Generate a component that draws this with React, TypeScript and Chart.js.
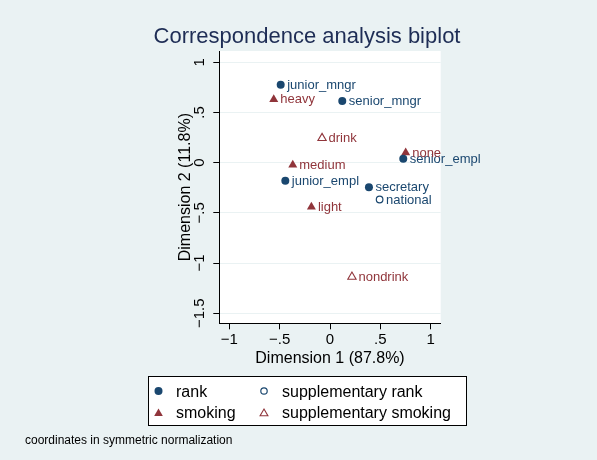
import React, { useEffect, useRef } from 'react';
import { Chart, registerables } from 'chart.js';

Chart.register(...registerables);

// ---- data ----
const rankLabels = ['junior_mngr', 'senior_mngr', 'senior_empl', 'junior_empl', 'secretary'];
const rankX = [-0.49, 0.122, 0.728, -0.444, 0.387];
const rankY = [0.775, 0.615, 0.038, -0.181, -0.244];

const suppRankLabels = ['national'];
const suppRankX = [0.493];
const suppRankY = [-0.367];

const smokingLabels = ['heavy', 'none', 'medium', 'light'];
const smokingX = [-0.559, 0.752, -0.37, -0.185];
const smokingY = [0.63, 0.1, -0.022, -0.44];

const suppSmokingLabels = ['drink', 'nondrink'];
const suppSmokingX = [-0.079, 0.218];
const suppSmokingY = [0.244, -1.137];

const xTicks = [-1, -0.5, 0, 0.5, 1];
const yTicks = [-1.5, -1, -0.5, 0, 0.5, 1];

const titleText = 'Correspondence analysis biplot';
const xTitle = 'Dimension 1 (87.8%)';
const yTitle = 'Dimension 2 (11.8%)';
const legendItems = ['rank', 'supplementary rank', 'smoking', 'supplementary smoking'];
const noteText = 'coordinates in symmetric normalization';

// ---- style ----
const NAVY = '#1a476f';
const MAROON = '#90353b';
const BG = '#eaf2f3';
const GRID = '#eaf2f3';
const TITLE_COLOR = '#1e2d55';
const FONT = '"Liberation Sans", Arial, Helvetica, sans-serif';

function fmt(v: number): string {
  if (v === 0) return '0';
  const s = Math.abs(v).toString().replace(/^0\./, '.');
  return (v < 0 ? '\u2212' : '') + s;
}

function pts(xs: number[], ys: number[]) {
  return xs.map((x, i) => ({ x, y: ys[i] }));
}

function tri(ctx: CanvasRenderingContext2D, x: number, y: number, r: number, fill: boolean, color: string) {
  ctx.beginPath();
  let a = 0;
  for (let i = 0; i < 3; i++) {
    const px = x + Math.sin(a) * r;
    const py = y - Math.cos(a) * r;
    if (i === 0) ctx.moveTo(px, py); else ctx.lineTo(px, py);
    a += (2 * Math.PI) / 3;
  }
  ctx.closePath();
  if (fill) { ctx.fillStyle = color; ctx.fill(); }
  else { ctx.strokeStyle = color; ctx.lineWidth = 1.1; ctx.stroke(); }
}

function circ(ctx: CanvasRenderingContext2D, x: number, y: number, r: number, fill: boolean, color: string) {
  ctx.beginPath();
  ctx.arc(x, y, r, 0, Math.PI * 2);
  if (fill) { ctx.fillStyle = color; ctx.fill(); }
  else { ctx.strokeStyle = color; ctx.lineWidth = 1.2; ctx.stroke(); }
}

const decor = {
  id: 'decor',
  beforeDraw(chart: any) {
    const { ctx, chartArea: a } = chart;
    ctx.save();
    ctx.fillStyle = BG;
    ctx.fillRect(0, 0, chart.width, chart.height);
    ctx.fillStyle = '#ffffff';
    ctx.fillRect(a.left, a.top, a.right - a.left, a.bottom - a.top);
    ctx.restore();
  },
  afterDatasetsDraw(chart: any) {
    const { ctx } = chart;
    ctx.save();
    ctx.font = `13px ${FONT}`;
    ctx.textAlign = 'left';
    ctx.textBaseline = 'middle';
    chart.data.datasets.forEach((ds: any, di: number) => {
      const meta = chart.getDatasetMeta(di);
      ctx.fillStyle = ds.labelColor;
      meta.data.forEach((el: any, i: number) => {
        ctx.fillText(ds.pointLabels[i], el.x + 6.5, el.y + 0.5);
      });
    });
    ctx.restore();
  },
  afterDraw(chart: any) {
    const { ctx, chartArea: a, scales } = chart;
    const xs = scales.x;
    const ys = scales.y;
    ctx.save();
    // title
    ctx.fillStyle = TITLE_COLOR;
    ctx.font = `22px ${FONT}`;
    ctx.textAlign = 'center';
    ctx.textBaseline = 'alphabetic';
    ctx.fillText(titleText, 307, 42.5);

    // x tick labels
    ctx.fillStyle = '#000';
    ctx.font = `15px ${FONT}`;
    xTicks.forEach((v) => {
      ctx.fillText(fmt(v), xs.getPixelForValue(v), 343.5);
    });
    // x title
    ctx.font = `16px ${FONT}`;
    ctx.fillText(xTitle, (a.left + a.right) / 2, 363);

    // y tick labels rotated
    ctx.font = `15px ${FONT}`;
    yTicks.forEach((v) => {
      const py = ys.getPixelForValue(v);
      ctx.save();
      ctx.translate(204, py);
      ctx.rotate(-Math.PI / 2);
      ctx.textAlign = 'center';
      ctx.fillText(fmt(v), 0, 0);
      ctx.restore();
    });
    // y title
    ctx.font = `16px ${FONT}`;
    ctx.save();
    ctx.translate(189.5, (a.top + a.bottom) / 2);
    ctx.rotate(-Math.PI / 2);
    ctx.textAlign = 'center';
    ctx.fillText(yTitle, 0, 0);
    ctx.restore();

    // legend box
    ctx.fillStyle = '#ffffff';
    ctx.fillRect(148, 376, 318, 49);
    ctx.strokeStyle = '#000';
    ctx.lineWidth = 1;
    ctx.strokeRect(148.5, 376.5, 318, 49);
    circ(ctx, 158.5, 391, 4, true, NAVY);
    circ(ctx, 264, 391, 3.2, false, NAVY);
    tri(ctx, 158.5, 413.5, 5, true, MAROON);
    tri(ctx, 264, 413.5, 4.5, false, MAROON);
    ctx.fillStyle = '#000';
    ctx.font = `16px ${FONT}`;
    ctx.textAlign = 'left';
    ctx.fillText(legendItems[0], 176, 396.5);
    ctx.fillText(legendItems[1], 282, 396.5);
    ctx.fillText(legendItems[2], 176, 418);
    ctx.fillText(legendItems[3], 282, 418);

    // note
    ctx.font = `12px ${FONT}`;
    ctx.fillText(noteText, 25, 444);
    ctx.restore();
  },
};

export default function App() {
  const ref = useRef<HTMLCanvasElement | null>(null);
  useEffect(() => {
    if (!ref.current) return;
    const chart = new Chart(ref.current, {
      type: 'scatter',
      data: {
        datasets: [
          {
            label: 'rank',
            data: pts(rankX, rankY),
            pointStyle: 'circle',
            pointRadius: 4,
            backgroundColor: NAVY,
            borderColor: NAVY,
            borderWidth: 0,
            pointLabels: rankLabels,
            labelColor: NAVY,
          } as any,
          {
            label: 'supplementary rank',
            data: pts(suppRankX, suppRankY),
            pointStyle: 'circle',
            pointRadius: 3.3,
            backgroundColor: '#ffffff',
            borderColor: NAVY,
            borderWidth: 1.2,
            pointLabels: suppRankLabels,
            labelColor: NAVY,
          } as any,
          {
            label: 'smoking',
            data: pts(smokingX, smokingY),
            pointStyle: 'triangle',
            pointRadius: 5.2,
            backgroundColor: MAROON,
            borderColor: MAROON,
            borderWidth: 0,
            pointLabels: smokingLabels,
            labelColor: MAROON,
          } as any,
          {
            label: 'supplementary smoking',
            data: pts(suppSmokingX, suppSmokingY),
            pointStyle: 'triangle',
            pointRadius: 4.8,
            backgroundColor: '#ffffff',
            borderColor: MAROON,
            borderWidth: 1.1,
            pointLabels: suppSmokingLabels,
            labelColor: MAROON,
          } as any,
        ],
      },
      options: {
        responsive: false,
        animation: false,
        devicePixelRatio: 1,
        layout: { padding: { top: 51, right: 156.3, left: 0, bottom: 0 } },
        plugins: {
          legend: { display: false },
          title: { display: false },
          tooltip: { enabled: false },
        },
        scales: {
          x: {
            type: 'linear',
            min: -1.1,
            max: 1.1,
            afterBuildTicks: (s: any) => { s.ticks = xTicks.map((v) => ({ value: v })); },
            afterFit: (s: any) => { s.height = 136.7; },
            ticks: { display: false },
            grid: {
              drawOnChartArea: false,
              drawTicks: true,
              tickLength: 6,
              tickColor: '#000',
            },
            border: { display: true, color: '#000', width: 1 },
          },
          y: {
            type: 'linear',
            min: -1.6,
            max: 1.112,
            afterBuildTicks: (s: any) => { s.ticks = yTicks.map((v) => ({ value: v })); },
            afterFit: (s: any) => { s.width = 219.3; },
            ticks: { display: false },
            grid: {
              drawOnChartArea: true,
              color: GRID,
              lineWidth: 1,
              drawTicks: true,
              tickLength: 6,
              tickColor: '#000',
            },
            border: { display: true, color: '#000', width: 1 },
          },
        },
      },
      plugins: [decor],
    });
    return () => chart.destroy();
  }, []);
  return (
    <div style={{ position: 'fixed', left: 0, top: 0, width: 597, height: 460 }}>
      <canvas ref={ref} width={597} height={460} style={{ width: 597, height: 460, display: 'block' }} />
    </div>
  );
}
